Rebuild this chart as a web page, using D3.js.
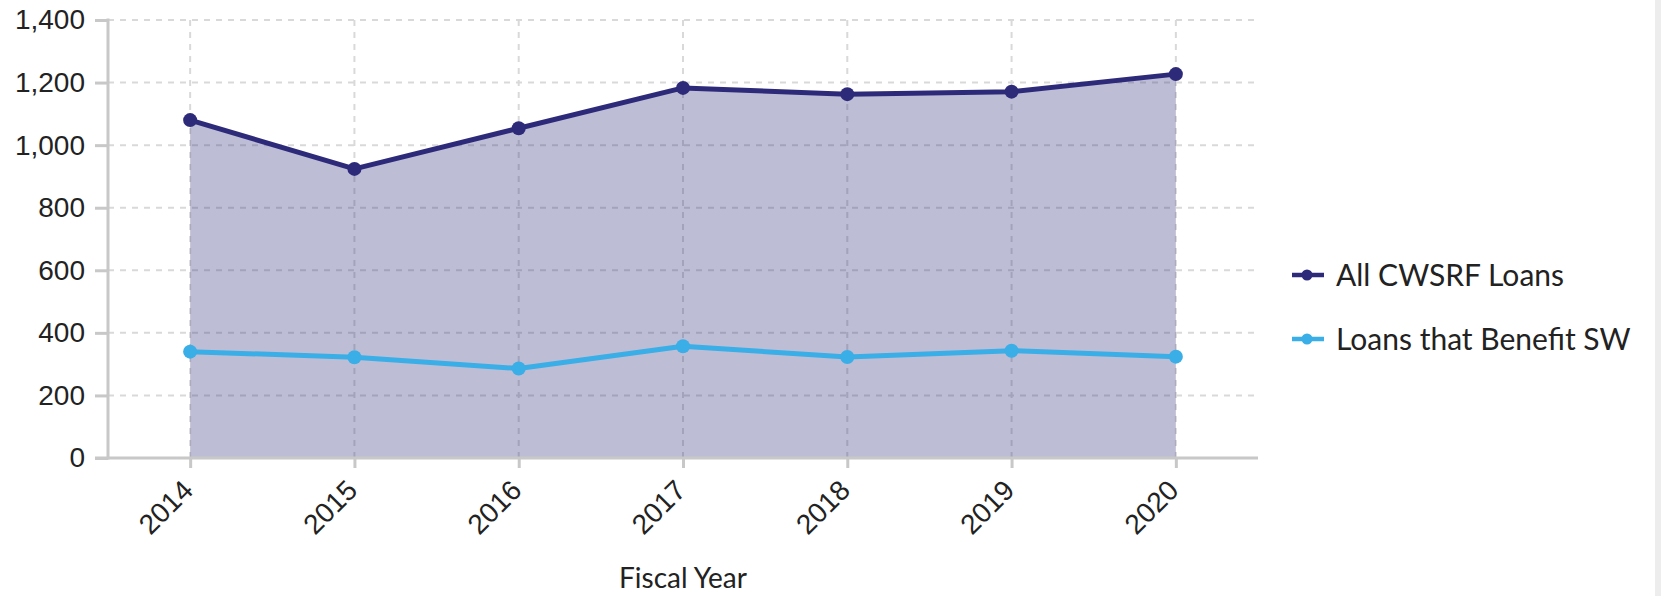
<!DOCTYPE html>
<html>
<head>
<meta charset="utf-8">
<script src="https://cdn.jsdelivr.net/npm/d3@7"></script>
<style>
    body { margin: 0; background: #fff; }
    .axis path, .axis line { stroke: #c8c8c8; stroke-width: 3; }
    .axis text { font-family: 'Liberation Sans', Arial, sans-serif; font-size: 28px; fill: #222; }
    .grid line { stroke: #d9d9d9; stroke-width: 2; stroke-dasharray: 6,6; }
    .label { font-family: Lato, 'Noto Sans', sans-serif; fill: #222; }
</style>
</head>
<body>
<svg id="chart" width="1661" height="596"></svg>
<script>
const years = ['2014', '2015', '2016', '2017', '2018', '2019', '2020'];
const allLoans = [1080, 924, 1054, 1183, 1163, 1171, 1227];
const swLoans = [340, 322, 286, 357, 323, 343, 324];
const yTicks = [0, 200, 400, 600, 800, 1000, 1200, 1400];
const seriesNames = ['All CWSRF Loans', 'Loans that Benefit SW'];
const colors = ['#2e2a7a', '#3aaee6'];

let svg = d3.select('#chart'),
    plotLeft = 108, plotRight = 1258, plotTop = 20, plotBottom = 458;

let x = d3.scalePoint().domain(years).range([plotLeft, plotRight]).padding(0.5),
    y = d3.scaleLinear().domain([0, 1400]).range([plotBottom, plotTop]);

// scrollbar strip on the right edge
svg.append('rect').attr('x', 1655).attr('y', 0).attr('width', 6).attr('height', 596).attr('fill', '#ededed');

// grid
let grid = svg.append('g').attr('class', 'grid');
grid.selectAll('.h').data(yTicks).enter().append('line')
    .attr('x1', plotLeft).attr('x2', plotRight)
    .attr('y1', d => y(d)).attr('y2', d => y(d));
grid.selectAll('.v').data(years).enter().append('line')
    .attr('x1', d => x(d)).attr('x2', d => x(d))
    .attr('y1', plotTop).attr('y2', plotBottom);

let allData = years.map((yr, i) => ({ year: yr, value: allLoans[i] }));
let swData = years.map((yr, i) => ({ year: yr, value: swLoans[i] }));

// area under all loans
svg.append('path')
    .datum(allData)
    .attr('fill', colors[0])
    .attr('fill-opacity', 0.31)
    .attr('d', d3.area().x(d => x(d.year)).y0(y(0)).y1(d => y(d.value)));

// axes
svg.append('g')
    .attr('class', 'axis')
    .attr('transform', 'translate(' + plotLeft + ',0)')
    .call(d3.axisLeft(y).tickValues(yTicks).tickSize(13).tickPadding(10).tickSizeOuter(0).tickFormat(d3.format(',')))
    .call(g => g.select('.domain').attr('d', 'M0,' + (plotTop - 1.5) + 'V' + (plotBottom + 1.5)));

let xAxis = svg.append('g')
    .attr('class', 'axis')
    .attr('transform', 'translate(0,' + plotBottom + ')')
    .call(d3.axisBottom(x).tickSize(10).tickSizeOuter(0));
xAxis.select('.domain').attr('d', 'M' + (plotLeft - 13) + ',0H' + plotRight);
xAxis.selectAll('text')
    .attr('text-anchor', 'end')
    .attr('dy', null)
    .attr('y', null)
    .attr('transform', 'translate(4,34) rotate(-45)');

// lines
[allData, swData].forEach((data, i) => {
    svg.append('path')
        .datum(data)
        .attr('fill', 'none')
        .attr('stroke', colors[i])
        .attr('stroke-width', 5)
        .attr('stroke-linejoin', 'round')
        .attr('d', d3.line().x(d => x(d.year)).y(d => y(d.value)));
    svg.selectAll('.dot' + i)
        .data(data)
        .enter().append('circle')
        .attr('cx', d => x(d.year))
        .attr('cy', d => y(d.value))
        .attr('r', 7)
        .attr('fill', colors[i]);
});

// axis title
svg.append('text')
    .attr('class', 'label')
    .attr('x', (plotLeft + plotRight) / 2)
    .attr('y', 588)
    .attr('text-anchor', 'middle')
    .attr('font-size', 28)
    .text('Fiscal Year');

// legend
let legend = svg.selectAll('.legend')
    .data(seriesNames)
    .enter().append('g')
    .attr('transform', (d, i) => 'translate(1292,' + (275 + i * 64) + ')');
legend.append('line')
    .attr('x1', 0).attr('x2', 32)
    .attr('stroke', (d, i) => colors[i])
    .attr('stroke-width', 4.5);
legend.append('circle')
    .attr('cx', 15).attr('r', 5.5)
    .attr('fill', (d, i) => colors[i]);
legend.append('text')
    .attr('class', 'label')
    .attr('x', 44)
    .attr('dy', '0.35em')
    .attr('font-size', 30)
    .text(d => d);
</script>
</body>
</html>
